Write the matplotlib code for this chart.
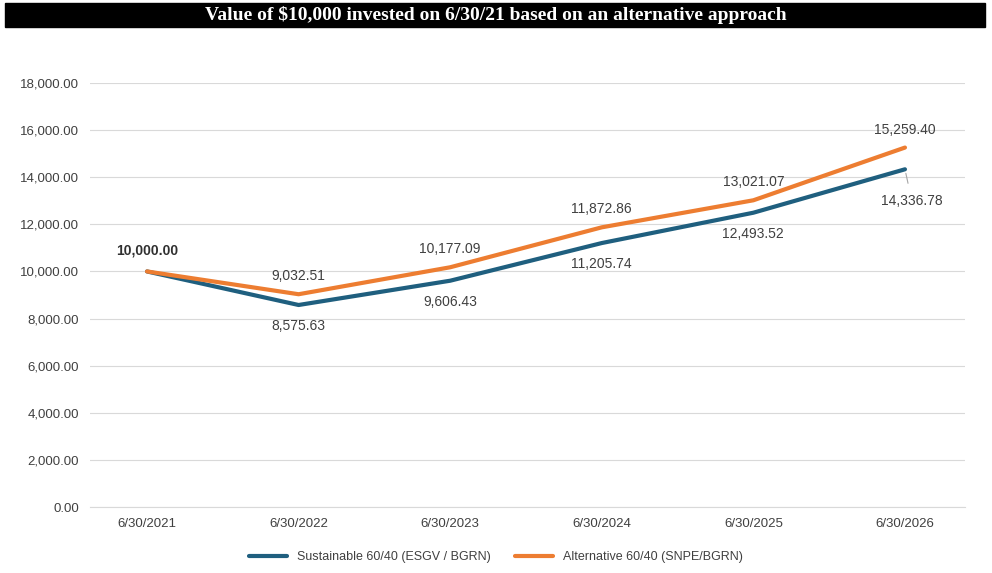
import matplotlib.pyplot as plt

dates = ["6/30/2021", "6/30/2022", "6/30/2023", "6/30/2024", "6/30/2025", "6/30/2026"]
sustainable = [10000.00, 8575.63, 9606.43, 11205.74, 12493.52, 14336.78]
alternative = [10000.00, 9032.51, 10177.09, 11872.86, 13021.07, 15259.40]

blue = "#1F5F7F"
orange = "#ED7D31"
plt.rcParams['font.family'] = ['Liberation Sans', 'DejaVu Sans']

fig = plt.figure(figsize=(9.92, 5.73), dpi=100)
fig.patches.append(plt.Rectangle((5/992, 1-27/573), 980/992, 24/573, transform=fig.transFigure,
                                 color="black", zorder=0))
fig.text(0.5, 1-15/573, "Value of $10,000 invested on 6/30/21 based on an alternative approach",
         ha="center", va="center", color="white", fontsize=14, fontweight="bold",
         family="Liberation Serif")

ax = fig.add_axes([90/992, 1-507/573, 875/992, 424/573])
x = list(range(len(dates)))
ax.plot(x, sustainable, color=blue, lw=3, label="Sustainable 60/40 (ESGV / BGRN)", solid_capstyle="round")
ax.plot(x, alternative, color=orange, lw=3, label="Alternative 60/40 (SNPE/BGRN)", solid_capstyle="round")

ax.set_ylim(0, 18000)
ax.set_yticks(range(0, 18001, 2000))
ax.set_yticklabels([f"{v:,.2f}" for v in range(0, 18001, 2000)])
ax.set_xlim(-0.376, 5.396)
ax.set_xticks(x)
ax.set_xticklabels(dates)
ax.grid(axis="y", color="#D9D9D9", lw=0.8)
ax.set_axisbelow(True)
for s in ["top", "right", "left"]:
    ax.spines[s].set_visible(False)
ax.spines["bottom"].set_color("#D9D9D9")
ax.tick_params(length=0, labelsize=9.5, colors="#404040", pad=8)

for i in x:
    if i == 0:
        ax.annotate(f"{alternative[i]:,.2f}", (i, alternative[i]), xytext=(0, 12), textcoords="offset points",
                    ha="center", fontsize=10, color="#303030", fontweight="bold")
        continue
    ax.annotate(f"{alternative[i]:,.2f}", (i, alternative[i]), xytext=(0, 10), textcoords="offset points",
                ha="center", fontsize=10, color="#404040")
    if i == 5:
        ax.annotate(f"{sustainable[i]:,.2f}", (i, sustainable[i]), xytext=(5, -23), textcoords="offset points",
                    ha="center", va="center", fontsize=10, color="#404040",
                    arrowprops=dict(arrowstyle="-", color="#A6A6A6", lw=0.8, shrinkA=6, shrinkB=3))
    else:
        ax.annotate(f"{sustainable[i]:,.2f}", (i, sustainable[i]), xytext=(0, -10), textcoords="offset points",
                    ha="center", va="top", fontsize=10, color="#404040")

fig.legend(loc="center", bbox_to_anchor=(0.5, 1-557/573), ncol=2, frameon=False, fontsize=9,
           handlelength=3, columnspacing=2, labelcolor="#404040")
fig.savefig("out.png", dpi=100)
